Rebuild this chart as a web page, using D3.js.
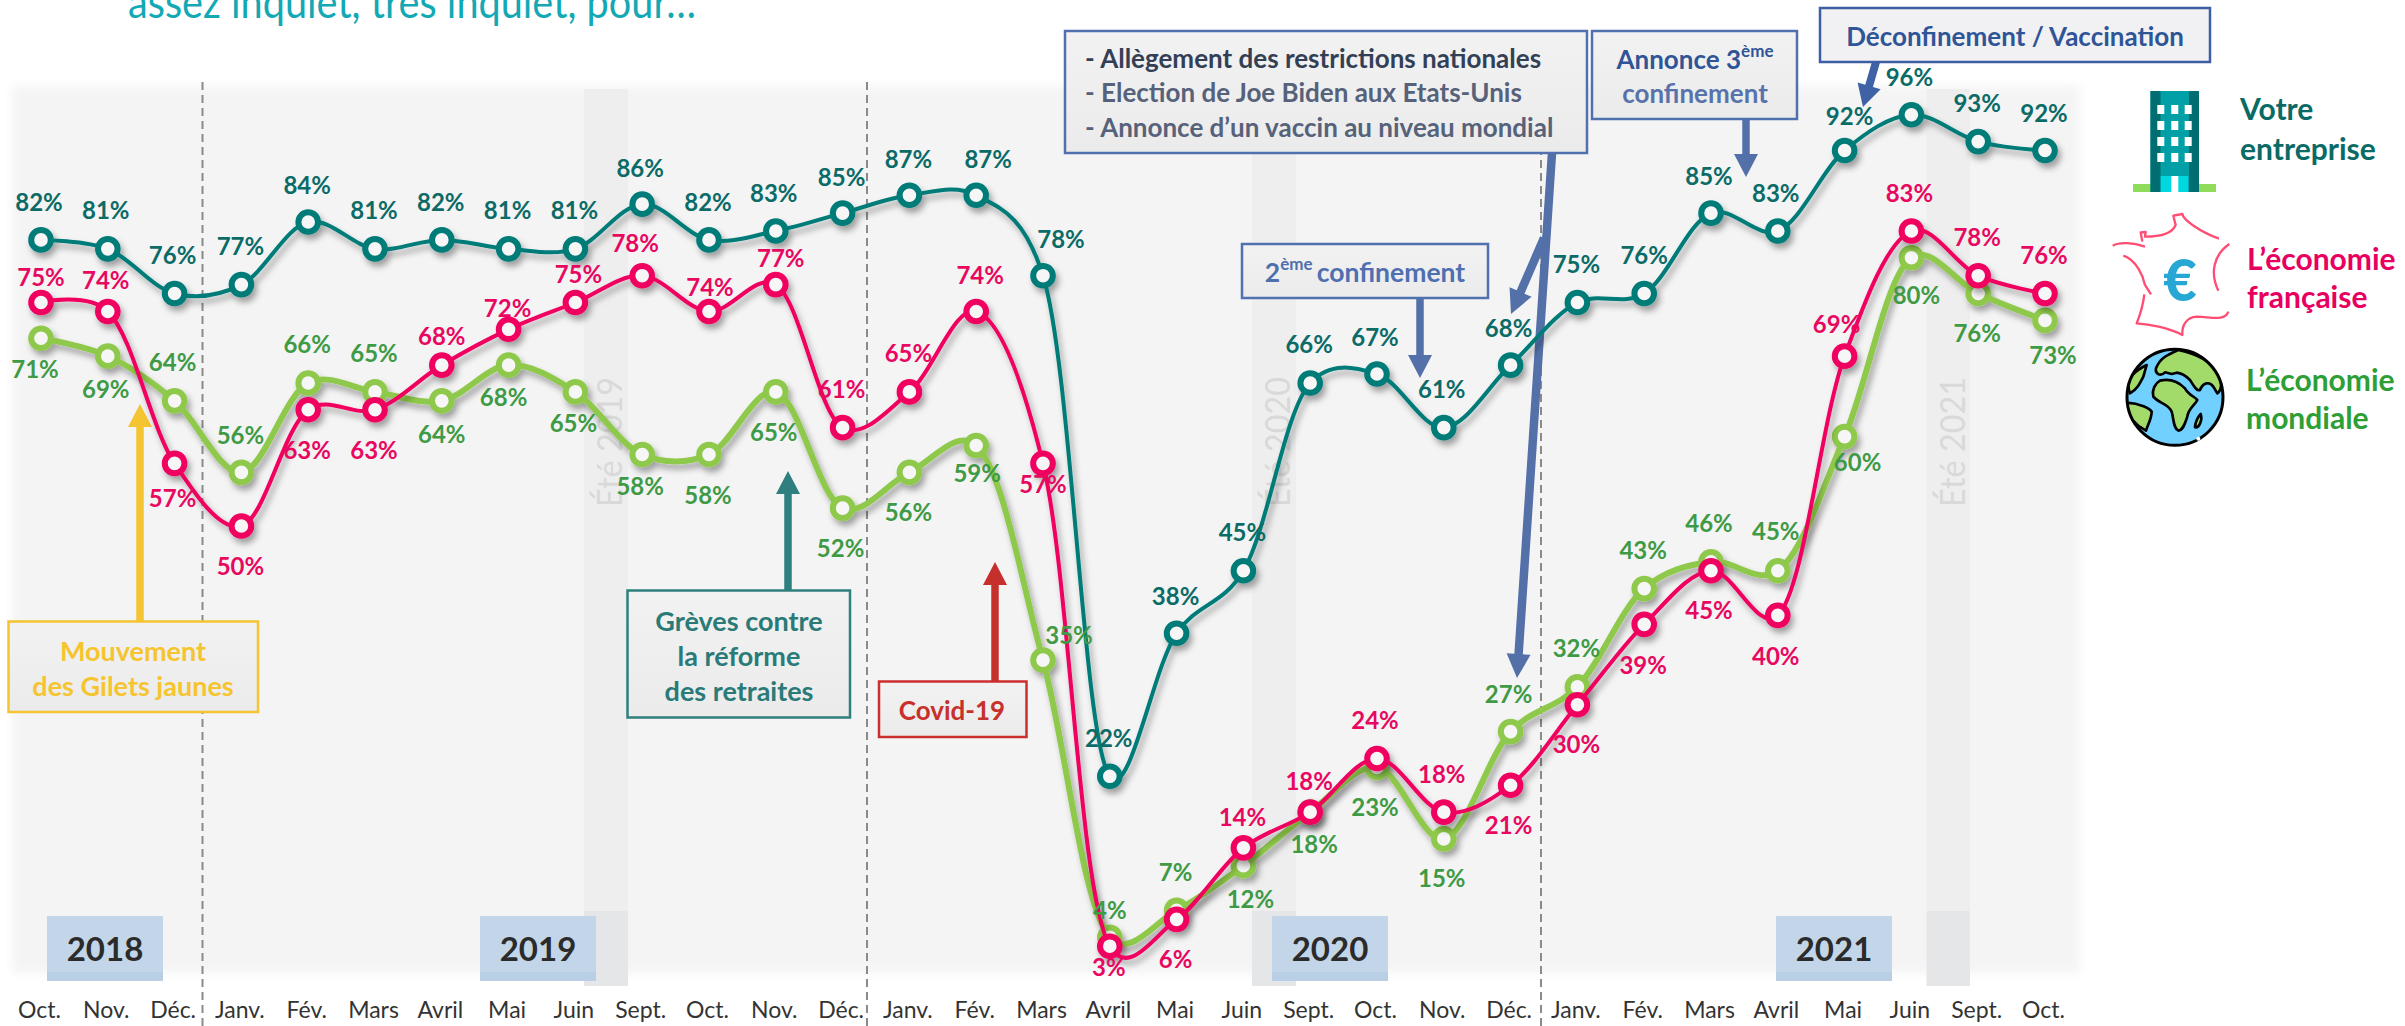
<!DOCTYPE html>
<html>
<head>
<meta charset="utf-8">
<script src="https://cdn.jsdelivr.net/npm/d3@7"></script>
<style>
  html, body { margin: 0; padding: 0; background: #fff; overflow: hidden; }
  svg { display: block; font-family: Lato, "Noto Sans", sans-serif; }
</style>
</head>
<body>
<div id="chart"></div>
<script>
// values
const months = ["Oct.", "Nov.", "Déc.",
  "Janv.", "Fév.", "Mars", "Avril", "Mai", "Juin", "Sept.", "Oct.", "Nov.", "Déc.",
  "Janv.", "Fév.", "Mars", "Avril", "Mai", "Juin", "Sept.", "Oct.", "Nov.", "Déc.",
  "Janv.", "Fév.", "Mars", "Avril", "Mai", "Juin", "Sept.", "Oct."];
const entreprise = [82, 81, 76, 77, 84, 81, 82, 81, 81, 86, 82, 83, 85, 87, 87, 78, 22, 38, 45, 66, 67, 61, 68, 75, 76, 85, 83, 92, 96, 93, 92];
const france = [75, 74, 57, 50, 63, 63, 68, 72, 75, 78, 74, 77, 61, 65, 74, 57, 3, 6, 14, 18, 24, 18, 21, 30, 39, 45, 40, 69, 83, 78, 76];
const monde = [71, 69, 64, 56, 66, 65, 64, 68, 65, 58, 58, 65, 52, 56, 59, 35, 4, 7, 12, 18, 23, 15, 27, 32, 43, 46, 45, 60, 80, 76, 73];
const years = ["2018", "2019", "2020", "2021"];
const summers = ["Été 2019", "Été 2020", "Été 2021"];

// label offsets from each point, placed by hand like in the original
const entrepriseOffsets = [[-2,-38],[-2,-39],[-2,-39],[-1,-39],[-1,-38],[-1,-39],[-1,-38],[-1,-39],[-1,-39],[-2,-37],[-1,-38],[-2,-38],[-1,-37],[-1,-37],[12,-37],[18,-37],[-1,-39],[-1,-38],[-1,-39],[-1,-39],[-2,-38],[-2,-39],[-2,-38],[-1,-39],[0,-39],[-2,-38],[-2,-38],[5,-35],[-2,-38],[-1,-39],[-1,-38]];
const franceOffsets = [[0,-26],[-2,-32],[-2,34],[-1,39],[-1,40],[-1,40],[0,-30],[-1,-22],[3,-29],[-7,-33],[1,-25],[5,-27],[-1,-39],[-1,-39],[4,-37],[0,20],[-1,20],[-1,39],[-1,-31],[-1,-32],[-2,-39],[-2,-39],[-2,39],[-1,39],[-1,40],[-2,39],[-2,40],[-8,-33],[-2,-38],[-1,-39],[-1,-39]];
const mondeOffsets = [[-6,30],[-2,32],[-2,-39],[-1,-38],[-1,-39],[-1,-39],[0,33],[-5,31],[-2,31],[-2,31],[-1,40],[-2,40],[-2,39],[-1,39],[1,27],[26,-26],[0,-28],[-1,-39],[7,33],[4,31],[-2,39],[-2,39],[-2,-38],[-1,-39],[-1,-39],[-2,-39],[-2,-40],[13,25],[5,37],[-1,39],[8,34]];

const width = 2405;
const height = 1026;

const x = d3.scaleLinear().domain([0, months.length - 1]).range([41, 2045]);
const y = d3.scaleLinear().domain([0, 100]).range([973, 79]);

const svg = d3.select("#chart").append("svg")
  .attr("width", width)
  .attr("height", height);

const defs = svg.append("defs");
defs.append("filter").attr("id", "soft")
  .attr("x", "-2%").attr("y", "-2%").attr("width", "104%").attr("height", "104%")
  .append("feGaussianBlur").attr("stdDeviation", 5);

const shadow = defs.append("filter").attr("id", "shadow")
  .attr("x", "-5%").attr("y", "-5%").attr("width", "110%").attr("height", "110%");
shadow.append("feDropShadow")
  .attr("dx", 3).attr("dy", 5).attr("stdDeviation", 3)
  .attr("flood-color", "#000").attr("flood-opacity", 0.35);

const boxFill = defs.append("linearGradient").attr("id", "boxFill")
  .attr("x1", 0).attr("x2", 0).attr("y1", 0).attr("y2", 1);
boxFill.append("stop").attr("offset", "0%").attr("stop-color", "#f2f2f3");
boxFill.append("stop").attr("offset", "100%").attr("stop-color", "#ebebeb");

// title, cut by the top of the page
svg.append("text")
  .attr("x", 128).attr("y", 18)
  .attr("font-size", 44)
  .attr("fill", "#12a9b5")
  .attr("textLength", 568)
  .attr("lengthAdjust", "spacingAndGlyphs")
  .text("assez inquiet, très inquiet, pour…");

// panel
svg.append("rect")
  .attr("x", 12).attr("y", 86).attr("width", 2068).attr("height", 887)
  .attr("fill", "#f4f4f5")
  .attr("filter", "url(#soft)");

// summer bands
const summerX = [[584, 628], [1252, 1296], [1926.5, 1970]];
const bands = svg.append("g").attr("class", "summers");
summers.forEach((s, i) => {
  const [x0, x1] = summerX[i];
  bands.append("rect").attr("x", x0).attr("y", 89).attr("width", x1 - x0).attr("height", 822).attr("fill", "#eeeeef");
  bands.append("rect").attr("x", x0).attr("y", 911).attr("width", x1 - x0).attr("height", 75).attr("fill", "#e5e6e8");
  bands.append("text")
    .attr("transform", `translate(${x0 + 38},507) rotate(-90)`)
    .attr("font-size", 35)
    .attr("fill", "#d9d9d9")
    .attr("textLength", 130)
    .attr("lengthAdjust", "spacingAndGlyphs")
    .text(s);
});

// year separators
svg.append("g").selectAll("line")
  .data([202.5, 867, 1541])
  .join("line")
  .attr("x1", d => d).attr("x2", d => d)
  .attr("y1", 82).attr("y2", height)
  .attr("stroke", "#8a8a8a")
  .attr("stroke-width", 2)
  .attr("stroke-dasharray", "8 5");

// year tags
const yearX = [47, 480, 1272, 1776];
const tags = svg.append("g").attr("class", "years");
years.forEach((yr, i) => {
  tags.append("rect").attr("x", yearX[i]).attr("y", 916).attr("width", 116).attr("height", 65).attr("fill", "#c3d5e8");
  tags.append("rect").attr("x", yearX[i]).attr("y", 972).attr("width", 116).attr("height", 9).attr("fill", "#b8cfe6");
  tags.append("text")
    .attr("x", yearX[i] + 58).attr("y", 961)
    .attr("text-anchor", "middle")
    .attr("font-size", 33).attr("font-weight", 700)
    .attr("fill", "#2b2b2b")
    .text(yr);
});

// x axis
const xAxis = d3.axisBottom(x)
  .tickValues(d3.range(months.length))
  .tickFormat(i => months[i])
  .tickSize(0);

svg.append("g")
  .attr("transform", "translate(-2,999)")
  .call(xAxis)
  .call(g => g.select(".domain").remove())
  .call(g => g.selectAll("text")
    .attr("font-family", "Lato")
    .attr("font-size", 23)
    .attr("fill", "#333"));

// annotation boxes and arrows
function box(x0, y0, x1, y1, stroke, fill) {
  svg.append("rect")
    .attr("x", x0).attr("y", y0)
    .attr("width", x1 - x0).attr("height", y1 - y0)
    .attr("fill", fill || "url(#boxFill)")
    .attr("stroke", stroke)
    .attr("stroke-width", 2.5);
}

function arrow(x0, y0, x1, y1, color, headLen, headW, shaftW) {
  const a = Math.atan2(y1 - y0, x1 - x0);
  const g = svg.append("g").attr("transform", `translate(${x1},${y1}) rotate(${a * 180 / Math.PI})`);
  const len = Math.hypot(x1 - x0, y1 - y0);
  g.append("path")
    .attr("fill", color)
    .attr("d", `M0,0L${-headLen},${headW / 2}L${-headLen},${shaftW / 2}L${-len},${shaftW / 2}L${-len},${-shaftW / 2}L${-headLen},${-shaftW / 2}L${-headLen},${-headW / 2}Z`);
}

function boxText(lines, cx, ys, color, size) {
  lines.forEach((t, i) => {
    svg.append("text")
      .attr("x", cx).attr("y", ys[i])
      .attr("text-anchor", "middle")
      .attr("dominant-baseline", "central")
      .attr("font-size", size).attr("font-weight", 700)
      .attr("fill", color)
      .text(t);
  });
}

const blueArrow = "#5470a8";

arrow(140, 621, 140, 404, "#f5c431", 23, 24, 7.5);
box(8.5, 621.5, 258, 712, "#f5c431");
boxText(["Mouvement", "des Gilets jaunes"], 133, [650, 685], "#f6c42e", 27);

arrow(788, 590, 788, 471, "#2f7f80", 23, 24, 7.5);
box(627.5, 590.5, 850, 717.5, "#2f7f7d");
boxText(["Grèves contre", "la réforme", "des retraites"], 739, [620, 655, 690], "#2a7b78", 27);

arrow(995, 681, 995, 562, "#c5302d", 23, 24, 7.5);
box(879, 681.5, 1026.5, 737, "#cc2e2e");
boxText(["Covid-19"], 952, [710], "#c7302b", 26);

arrow(1552, 153, 1517, 678, blueArrow, 24, 24, 8.5);
arrow(1544, 238, 1511, 314, blueArrow, 24, 24, 8.5);
box(1065, 31, 1587, 153, "#4f72ae");
[["- Allègement des restrictions nationales", "#333f55", 58],
 ["- Election de Joe Biden aux Etats-Unis", "#56627a", 92],
 ["- Annonce d’un vaccin au niveau mondial", "#56627a", 127]].forEach(([t, c, yy]) => {
  svg.append("text")
    .attr("x", 1085).attr("y", yy)
    .attr("dominant-baseline", "central")
    .attr("font-size", 26).attr("font-weight", 700)
    .attr("fill", c)
    .text(t);
});

arrow(1420, 298, 1420, 378, blueArrow, 23, 24, 7.5);
box(1242, 244, 1488, 298, "#4f72ae");
const second = svg.append("text")
  .attr("x", 1365).attr("y", 272)
  .attr("text-anchor", "middle")
  .attr("dominant-baseline", "central")
  .attr("font-size", 26.5).attr("font-weight", 700)
  .attr("fill", "#4f6fae");
second.append("tspan").text("2");
second.append("tspan").attr("font-size", 17).attr("dy", -9).text("ème ");
second.append("tspan").attr("dy", 9).text("confinement");

arrow(1746, 119, 1746, 177, blueArrow, 23, 24, 7.5);
box(1592, 31, 1797, 119, "#4f72ae");
const third = svg.append("text")
  .attr("x", 1695).attr("y", 59)
  .attr("text-anchor", "middle")
  .attr("dominant-baseline", "central")
  .attr("font-size", 26).attr("font-weight", 700)
  .attr("fill", "#2f5597");
third.append("tspan").text("Annonce 3");
third.append("tspan").attr("font-size", 17).attr("dy", -9).text("ème");
boxText(["confinement"], 1695, [93], "#5873ab", 26);

arrow(1876, 62, 1863, 107, "#3f62a6", 22, 24, 8);
box(1820, 8, 2210, 62, "#3c5ea3", "#f1f1f3");
boxText(["Déconfinement / Vaccination"], 2015, [36], "#2f5597", 26);

// series
const line = d3.line()
  .x((d, i) => x(i))
  .y(d => y(d))
  .curve(d3.curveCatmullRom.alpha(0.25));

const series = [
  { name: "monde", values: monde, offsets: mondeOffsets, color: "#8fc94b", label: "#3f9a45", width: 6 },
  { name: "entreprise", values: entreprise, offsets: entrepriseOffsets, color: "#007b78", label: "#0b6b66", width: 4 },
  { name: "france", values: france, offsets: franceOffsets, color: "#f0005f", label: "#e8085f", width: 4 },
];

series.forEach(s => {
  const g = svg.append("g").attr("class", s.name).attr("filter", "url(#shadow)");
  g.append("path")
    .datum(s.values)
    .attr("d", line)
    .attr("fill", "none")
    .attr("stroke", s.color)
    .attr("stroke-width", s.width);
  g.selectAll("circle")
    .data(s.values)
    .join("circle")
    .attr("cx", (d, i) => x(i))
    .attr("cy", d => y(d))
    .attr("r", 9.8)
    .attr("fill", "#f6f6f6")
    .attr("stroke", s.color)
    .attr("stroke-width", 6);
});

series.forEach(s => {
  svg.append("g").attr("class", s.name + "-labels")
    .selectAll("text")
    .data(s.values)
    .join("text")
    .attr("x", (d, i) => x(i) + s.offsets[i][0])
    .attr("y", (d, i) => y(d) + s.offsets[i][1])
    .attr("text-anchor", "middle")
    .attr("dominant-baseline", "central")
    .attr("font-size", 24)
    .attr("font-weight", 700)
    .attr("fill", s.label)
    .text(d => d + "%");
});

// legend
function legendText(lines, lx, ys, color) {
  lines.forEach((t, i) => {
    svg.append("text")
      .attr("x", lx).attr("y", ys[i])
      .attr("dominant-baseline", "central")
      .attr("font-size", 30).attr("font-weight", 700)
      .attr("fill", color)
      .text(t);
  });
}
legendText(["Votre", "entreprise"], 2240, [108, 148], "#0a6a66");
legendText(["L’économie", "française"], 2247, [258, 296], "#e8005f");
legendText(["L’économie", "mondiale"], 2246, [379, 417], "#2e9e36");

// building icon
const building = svg.append("g").attr("class", "icon-building");
const bRect = (x0, y0, w, h, fill) => building.append("rect")
  .attr("x", x0).attr("y", y0).attr("width", w).attr("height", h).attr("fill", fill);
bRect(2133, 184, 83, 8, "#8fdc5a");
bRect(2150.5, 91, 48.5, 101, "#00a0a6");
bRect(2150.5, 91, 10, 101, "#006d70");
bRect(2189, 91, 10, 101, "#006d70");
[2157.3, 2171.3, 2184.7].forEach(wx => {
  [105, 121, 137, 153].forEach(wy => bRect(wx, wy, 7, 9, "#fff"));
});
bRect(2160.7, 176, 27.6, 16, "#00d8e0");
bRect(2171.3, 176, 7, 16, "#fff");

// france icon, coordinates taken at 3x
const fr = svg.append("g").attr("class", "icon-france")
  .attr("transform", "translate(2090,200) scale(0.3333)")
  .attr("fill", "none")
  .attr("stroke", "#ff4d73")
  .attr("stroke-width", 7)
  .attr("stroke-linejoin", "round");
[
  "M68,137C90,125 130,128 165,140",
  "M157,125L152,97L167,96L165,110C200,110 245,105 257,75L250,47L277,42C280,60 330,95 387,116",
  "M100,167C140,180 160,230 165,255L183,283",
  "M418,132C370,165 360,220 385,272",
  "M163,283C160,310 150,345 140,370C180,372 240,385 277,405C275,375 290,352 320,350C360,350 405,365 415,335",
].forEach(d => fr.append("path").attr("d", d));
svg.append("text")
  .attr("x", 2180).attr("y", 278)
  .attr("text-anchor", "middle")
  .attr("dominant-baseline", "central")
  .attr("font-size", 58).attr("font-weight", 900)
  .attr("fill", "#27a7d4")
  .text("€");

// globe icon, same 3x coordinates
defs.append("clipPath").attr("id", "globeClip")
  .append("circle").attr("cx", 195).attr("cy", 172).attr("r", 144);
const globe = svg.append("g").attr("class", "icon-globe")
  .attr("transform", "translate(2110,340) scale(0.3333)");
globe.append("circle").attr("cx", 195).attr("cy", 172).attr("r", 144).attr("fill", "#72d0ff");
const land = globe.append("g")
  .attr("clip-path", "url(#globeClip)")
  .attr("fill", "#a3db6a")
  .attr("stroke", "#000")
  .attr("stroke-width", 8)
  .attr("stroke-linejoin", "round");
[
  "M205,30C170,45 150,55 138,85C135,100 150,112 165,97L185,102L200,98C220,100 230,110 240,120C250,135 260,155 270,150C280,125 300,125 310,140L322,160C345,145 345,60 205,30Z",
  "M150,122C180,115 205,125 225,145C235,165 255,170 262,180C255,195 235,205 232,230C225,250 220,270 205,272C190,265 192,240 185,215C175,190 145,190 130,170C125,150 135,130 150,122Z",
  "M110,75C90,85 40,110 60,160C80,150 90,130 100,110Z",
  "M50,188C90,190 120,205 125,215C125,235 115,250 108,272C85,260 40,225 50,188Z",
  "M272,222C262,232 255,250 255,262C268,265 278,240 272,222Z",
].forEach(d => land.append("path").attr("d", d));
globe.append("circle").attr("cx", 195).attr("cy", 172).attr("r", 144)
  .attr("fill", "none").attr("stroke", "#000").attr("stroke-width", 9);
globe.append("circle").attr("cx", 265).attr("cy", 296).attr("r", 6).attr("fill", "#fff");
</script>
</body>
</html>
